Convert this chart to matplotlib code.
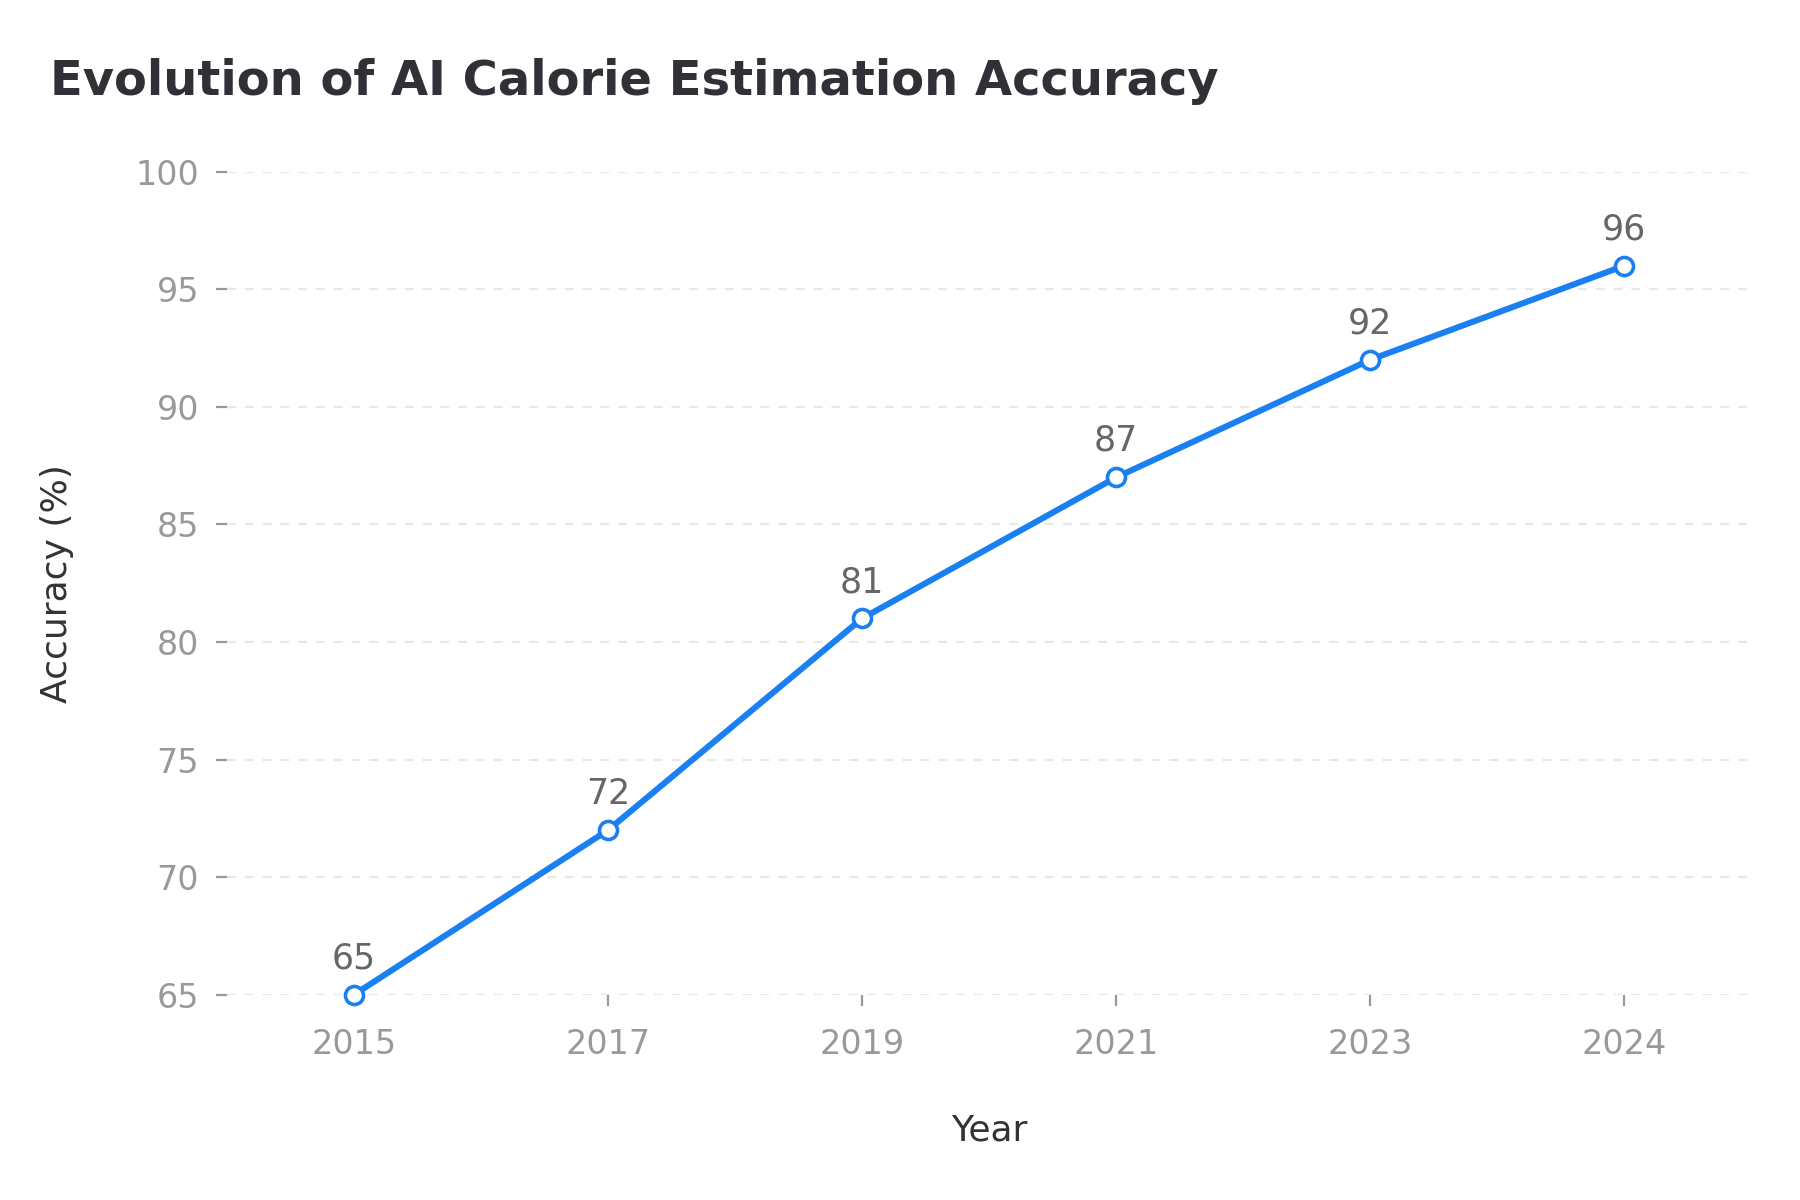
import matplotlib
matplotlib.use("Agg")
import matplotlib.pyplot as plt

years = ["2015", "2017", "2019", "2021", "2023", "2024"]
accuracy = [65, 72, 81, 87, 92, 96]
yticks = [65, 70, 75, 80, 85, 90, 95, 100]

plt.rcParams['font.family'] = ['DejaVu Sans']
fig = plt.figure(figsize=(9, 6), dpi=200)
ax = fig.add_axes([0.126, 0.171, 0.847, 0.686])

x = list(range(len(years)))
ax.plot(x, accuracy, color="#1a80f2", linewidth=2.2, marker="o", markersize=6.5,
        markerfacecolor="white", markeredgecolor="#1a80f2", markeredgewidth=1.3,
        clip_on=False, zorder=3)
for xi, v in zip(x, accuracy):
    ax.annotate(str(v), (xi, v), xytext=(0, 7), textcoords="offset points",
                ha="center", va="bottom", fontsize=12.5, color="#666666")

ax.set_xlim(-0.5, len(years) - 0.5)
ax.set_ylim(65, 100)
ax.set_xticks(x)
ax.set_xticklabels(years)
ax.set_yticks(yticks)
for s in ax.spines.values():
    s.set_visible(False)
ax.tick_params(axis="both", colors="#999999", labelsize=12, length=4, width=0.8, pad=6)
ax.tick_params(axis="x", pad=8)
ax.grid(axis="y", linestyle=(0, (4, 4)), color="#e8e8e8", linewidth=0.8)
ax.set_axisbelow(True)
ax.set_xlabel("Year", fontsize=13, color="#333333", labelpad=19)
ax.set_ylabel("Accuracy (%)", fontsize=13, color="#333333", labelpad=22)

fig.text(0.028, 0.932, "Evolution of AI Calorie Estimation Accuracy", fontsize=17.3,
         fontweight="bold", color="#2f3136", ha="left", va="center")

fig.savefig("out.png", dpi=200, facecolor="white")
